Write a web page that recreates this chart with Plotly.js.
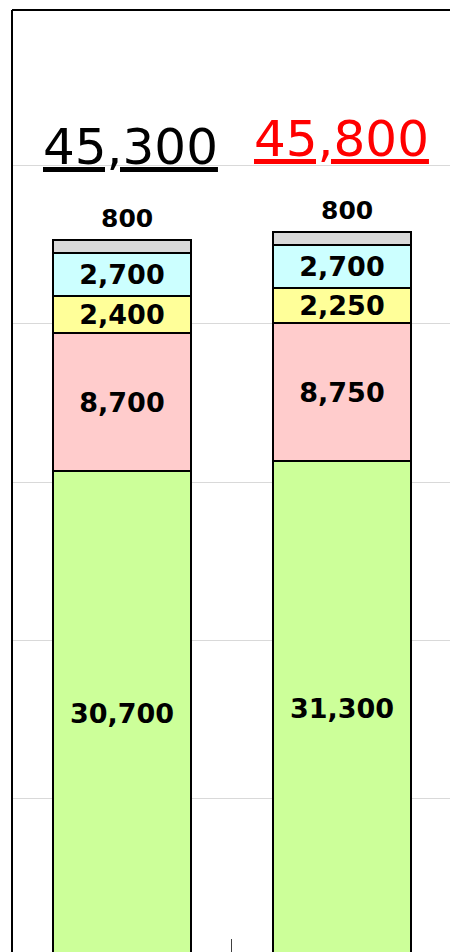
<!DOCTYPE html>
<html>
<head>
<meta charset="utf-8">
<script src="https://cdn.plot.ly/plotly-3.0.1.min.js"></script>
<style>
  html, body { margin: 0; padding: 0; background: #ffffff; overflow: hidden; }
  #chart { width: 450px; height: 952px; }
</style>
</head>
<body>
<div id="chart"></div>
<script>
// ---- data ----
const categories = ['A', 'B'];
const greenVals  = [30700, 31300];
const pinkVals   = [8700, 8750];
const yellowVals = [2400, 2250];
const cyanVals   = [2700, 2700];
const grayVals   = [800, 800];
const totalVals  = [45300, 45800];
const totalColors = ['#000000', '#ff0000'];

// ---- styles ----
const fmt = v => v.toLocaleString('en-US');
const labelFont = { family: 'DejaVu Sans', size: 27, weight: 'bold', color: '#000000' };
const barWidth = 0.623;

function seg(vals, color) {
  return {
    type: 'bar',
    x: categories,
    y: vals,
    width: barWidth,
    marker: { color: color, line: { color: '#000000', width: 2 } },
    text: vals.map(fmt),
    textposition: 'inside',
    insidetextanchor: 'middle',
    constraintext: 'none',
    textfont: labelFont,
    hoverinfo: 'skip',
    showlegend: false
  };
}

const traces = [
  seg(greenVals, '#ccff99'),
  seg(pinkVals, '#ffcccc'),
  seg(yellowVals, '#ffff99'),
  seg(cyanVals, '#ccffff'),
  Object.assign(seg(grayVals, '#d9d9d9'), { text: grayVals.map(() => ''), textposition: 'none' })
];

const totalShift = [9, 0];
const annotations = [];
categories.forEach((c, i) => {
  // gray segment label above bar
  annotations.push({
    x: c, y: totalVals[i], xref: 'x', yref: 'y',
    text: fmt(grayVals[i]),
    showarrow: false, yanchor: 'middle', yshift: 22, xshift: 5,
    font: { family: 'DejaVu Sans', size: 25, weight: 'bold', color: '#000000' }
  });
  // total label
  annotations.push({
    x: c, y: totalVals[i], xref: 'x', yref: 'y',
    text: '<u>' + fmt(totalVals[i]) + '</u>',
    showarrow: false, yanchor: 'middle', yshift: 93, xshift: totalShift[i],
    font: { family: 'DejaVu Sans', size: 50, color: totalColors[i] }
  });
});

const layout = {
  width: 450,
  height: 952,
  margin: { l: 12, r: 0, t: 10, b: 0, pad: 0 },
  paper_bgcolor: '#ffffff',
  plot_bgcolor: '#ffffff',
  barmode: 'stack',
  showlegend: false,
  xaxis: {
    type: 'category',
    range: [-0.5, 1.491],
    showticklabels: false,
    showgrid: false,
    zeroline: false,
    showline: false,
    ticks: 'inside',
    ticklen: 13,
    tickwidth: 1,
    tickcolor: '#404040',
    tickson: 'boundaries',
    fixedrange: true
  },
  yaxis: {
    range: [253, 59873],
    dtick: 10000,
    tick0: 0,
    showticklabels: false,
    showgrid: true,
    gridcolor: '#d9d9d9',
    gridwidth: 1,
    zeroline: false,
    showline: false,
    ticks: '',
    fixedrange: true
  },
  shapes: [
    { type: 'line', xref: 'paper', yref: 'paper', x0: 0, x1: 0, y0: 0, y1: 1,
      line: { color: '#000000', width: 2 }, layer: 'above' },
    { type: 'line', xref: 'paper', yref: 'paper', x0: 0, x1: 1, y0: 1, y1: 1,
      line: { color: '#000000', width: 2 }, layer: 'above' }
  ],
  annotations: annotations
};

Plotly.newPlot('chart', traces, layout, { staticPlot: true, displayModeBar: false });
</script>
</body>
</html>
